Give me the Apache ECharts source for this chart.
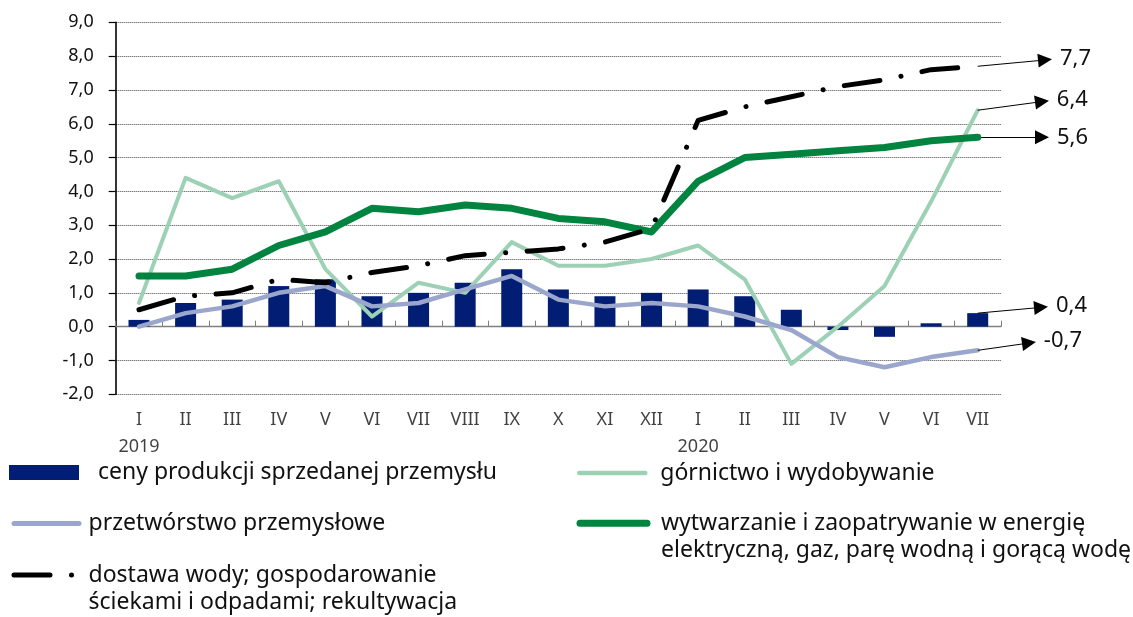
<!DOCTYPE html>
<html><head><meta charset="utf-8">
<script src="https://cdn.jsdelivr.net/npm/echarts@6/dist/echarts.min.js"></script>
<style>html,body{margin:0;padding:0;background:#fff}#c{width:1133px;height:617px}</style>
</head><body><div id="c"></div>
<script>
const months = ['I','II','III','IV','V','VI','VII','VIII','IX','X','XI','XII','I','II','III','IV','V','VI','VII'];
const yearLabels = ['2019','','','','','','','','','','','','2020','','','','','',''];
const ceny = [0.2,0.7,0.8,1.2,1.4,0.9,1.0,1.3,1.7,1.1,0.9,1.0,1.1,0.9,0.5,-0.1,-0.3,0.1,0.4];
const gornictwo = [0.7,4.4,3.8,4.3,1.7,0.3,1.3,1.0,2.5,1.8,1.8,2.0,2.4,1.4,-1.1,0.0,1.2,3.7,6.4];
const przetworstwo = [0.0,0.4,0.6,1.0,1.2,0.6,0.7,1.1,1.5,0.8,0.6,0.7,0.6,0.3,-0.1,-0.9,-1.2,-0.9,-0.7];
const wytwarzanie = [1.5,1.5,1.7,2.4,2.8,3.5,3.4,3.6,3.5,3.2,3.1,2.8,4.3,5.0,5.1,5.2,5.3,5.5,5.6];
const dostawa = [0.5,0.9,1.0,1.4,1.3,1.6,1.8,2.1,2.2,2.3,2.5,2.9,6.1,6.5,6.8,7.1,7.3,7.6,7.7];
const names = {
  ceny: 'ceny produkcji sprzedanej przemysłu',
  gorn: 'górnictwo i wydobywanie',
  przet: 'przetwórstwo przemysłowe',
  wytw: 'wytwarzanie i zaopatrywanie w energię elektryczną, gaz, parę wodną i gorącą wodę',
  dost: 'dostawa wody; gospodarowanie ściekami i odpadami; rekultywacja'
};
const yMin = -2, yMax = 9, yStep = 1;

const FONT = 'Noto Sans';
const TXT = '#111';
const fmt = v => v.toFixed(1).replace('.', ',');
const last = a => a[a.length - 1];

function callout(value, endX, endY) {
  return {
    silent: true,
    animation: false,
    symbol: ['none', 'triangle'],
    symbolSize: 14,
    lineStyle: { color: '#000', width: 1, type: 'solid' },
    label: { show: true, position: 'end', distance: 15, fontSize: 22, fontFamily: FONT, color: TXT, formatter: fmt(value) },
    emphasis: { disabled: true },
    data: [[{ coord: [months.length - 1, value] }, { x: endX, y: endY }]]
  };
}

const legendBase = {
  padding: 0, itemGap: 0, selectedMode: false, orient: 'horizontal',
  textStyle: { fontSize: 23, fontFamily: FONT, color: TXT, lineHeight: 27 }
};
function lg(o) { return Object.assign({}, legendBase, o, { textStyle: Object.assign({}, legendBase.textStyle, o.textStyle || {}) }); }

const chart = echarts.init(document.getElementById('c'), null, { renderer: 'canvas' });
chart.setOption({
  animation: false,
  backgroundColor: '#fff',
  textStyle: { fontFamily: FONT },
  grid: { left: 115.7, right: 132, top: 22.3, bottom: 222.7, containLabel: false },
  xAxis: [
    {
      type: 'category', data: months, position: 'bottom',
      axisLine: { show: false, onZero: false }, axisTick: { show: false },
      axisLabel: { show: false }, splitLine: { show: false }
    },
    {
      type: 'category', data: months, position: 'top',
      axisLine: { show: true, onZero: true, lineStyle: { color: '#808080', width: 1.3 } },
      axisTick: { show: true, inside: false, length: 6, lineStyle: { color: '#808080', width: 1 } },
      axisLabel: { show: false }, splitLine: { show: false }
    }
  ],
  yAxis: {
    type: 'value', min: yMin, max: yMax, interval: yStep,
    axisLine: { show: true, lineStyle: { color: '#000', width: 1.6 } },
    axisTick: { show: true, length: 7, lineStyle: { color: '#000', width: 1.2 } },
    axisLabel: { fontSize: 18, margin: 22, color: TXT, fontFamily: FONT, formatter: v => fmt(v) },
    splitLine: { show: true, lineStyle: { color: '#444', width: 1, type: [1, 1] } }
  },
  legend: [
    lg({ data: [{ name: names.ceny, icon: 'rect' }], left: 9, top: 459, itemWidth: 70, itemHeight: 15,
         textStyle: { padding: [0, 0, 0, 14] } }),
    lg({ data: [names.gorn], left: 577, top: 459.5, itemWidth: 66, itemHeight: 14,
         itemStyle: { opacity: 0 }, lineStyle: { width: 4.5, cap: 'round' },
         textStyle: { padding: [0, 0, 0, 10] } }),
    lg({ data: [names.przet], left: 11.5, top: 510, itemWidth: 65, itemHeight: 14,
         itemStyle: { opacity: 0 }, lineStyle: { width: 5, cap: 'round' },
         textStyle: { padding: [0, 0, 0, 4.5] } }),
    lg({ data: [names.wytw], left: 576.5, top: 482.8, itemWidth: 67, itemHeight: 14,
         itemStyle: { opacity: 0 }, lineStyle: { width: 7, cap: 'round' },
         formatter: n => ' \n' + n.replace('energię ', 'energię\n'),
         textStyle: { padding: [0, 0, 0, 9] } }),
    lg({ data: [names.dost], left: 11.5, top: 534.5, itemWidth: 62, itemHeight: 14,
         itemStyle: { opacity: 0 }, lineStyle: { width: 5, cap: 'round' },
         formatter: n => ' \n' + n.replace('gospodarowanie ', 'gospodarowanie\n'),
         textStyle: { padding: [0, 0, 0, 7.5] } })
  ],
  series: [
    {
      name: names.ceny, type: 'bar', data: ceny, barWidth: 21, clip: false,
      itemStyle: { color: '#021d74' }, z: 2,
      markLine: callout(last(ceny), 1041, 307.4)
    },
    {
      name: names.gorn, type: 'line', data: gornictwo, symbol: 'none', clip: false,
      lineStyle: { color: '#9dd1b5', width: 4, cap: 'round', join: 'round' },
      itemStyle: { color: '#9dd1b5' }, z: 3,
      markLine: callout(last(gornictwo), 1042, 101.6)
    },
    {
      name: names.przet, type: 'line', data: przetworstwo, symbol: 'none', clip: false,
      lineStyle: { color: '#9aa6cc', width: 4.5, cap: 'round', join: 'round' },
      itemStyle: { color: '#9aa6cc' }, z: 4,
      markLine: callout(last(przetworstwo), 1029, 343)
    },
    {
      name: names.wytw, type: 'line', data: wytwarzanie, symbol: 'none', clip: false,
      lineStyle: { color: '#00843f', width: 7, cap: 'round', join: 'round' },
      itemStyle: { color: '#00843f' }, z: 5,
      markLine: callout(last(wytwarzanie), 1042, 137.3)
    },
    {
      name: names.dost, type: 'line', data: dostawa, symbol: 'none', clip: false,
      lineStyle: { color: '#000', width: 5, cap: 'round', join: 'round', type: [36, 21.5, 0.01, 21.5] },
      itemStyle: { color: '#000' }, z: 6,
      markLine: callout(last(dostawa), 1045, 60)
    },
    {
      name: 'category-labels', type: 'scatter', xAxisIndex: 0, silent: true, clip: false,
      data: months.map((m, i) => [i, yMin]), symbol: 'circle', symbolSize: 1,
      itemStyle: { color: 'rgba(255,255,255,0)', borderWidth: 0 },
      label: {
        show: true, position: 'bottom', distance: 12, align: 'center',
        fontSize: 18, lineHeight: 27, fontFamily: FONT, color: TXT,
        formatter: p => months[p.dataIndex] + (yearLabels[p.dataIndex] ? '\n' + yearLabels[p.dataIndex] : '')
      },
      labelLayout: { hideOverlap: false },
      emphasis: { disabled: true }, tooltip: { show: false }, z: 10
    }
  ]
});
</script></body></html>
